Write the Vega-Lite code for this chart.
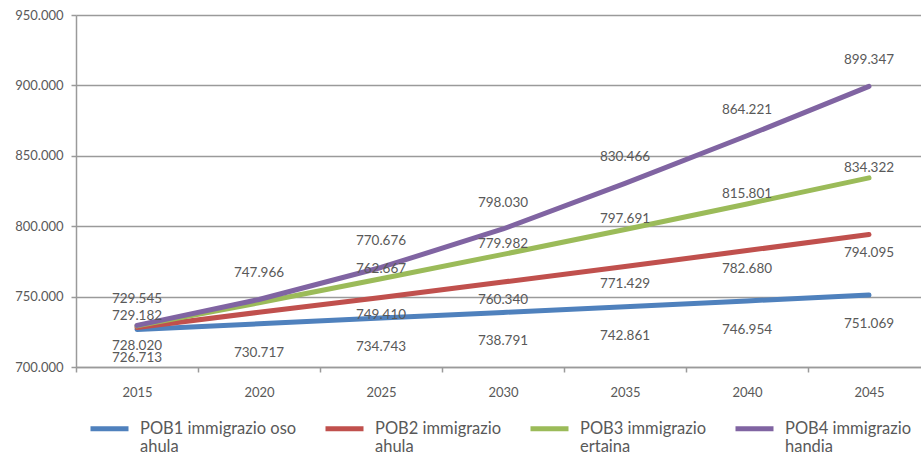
{
  "$schema": "https://vega.github.io/schema/vega-lite/v6.json",
  "autosize": {"type": "none"},
  "padding": {"left": 76, "top": 15, "right": 0, "bottom": 93},
  "width": 854,
  "height": 352,
  "background": "white",
  "config": {
    "locale": {"number": {"decimal": ",", "thousands": ".", "grouping": [3], "currency": ["", " €"]}},
    "view": {"stroke": null},
    "font": "Lato",
    "axis": {
      "labelFont": "Lato",
      "labelColor": "#595959",
      "labelFontSize": 13,
      "domainColor": "#9a9a9a",
      "domainWidth": 1.5,
      "tickColor": "#9a9a9a",
      "tickWidth": 1.5,
      "tickSize": 5,
      "gridColor": "#9a9a9a",
      "gridWidth": 1.3,
      "title": null
    },
    "legend": {
      "labelFont": "Lato",
      "labelFontSize": 16.5,
      "labelColor": "#595959",
      "labelLimit": 250,
      "labelLineHeight": 20
    }
  },
  "data": {
    "values": [
      {"series": "POB1 immigrazio oso ahula", "year": "2015", "value": 726713},
      {"series": "POB1 immigrazio oso ahula", "year": "2020", "value": 730717},
      {"series": "POB1 immigrazio oso ahula", "year": "2025", "value": 734743},
      {"series": "POB1 immigrazio oso ahula", "year": "2030", "value": 738791},
      {"series": "POB1 immigrazio oso ahula", "year": "2035", "value": 742861},
      {"series": "POB1 immigrazio oso ahula", "year": "2040", "value": 746954},
      {"series": "POB1 immigrazio oso ahula", "year": "2045", "value": 751069},
      {"series": "POB2 immigrazio ahula", "year": "2015", "value": 728020},
      {"series": "POB2 immigrazio ahula", "year": "2020", "value": 738900},
      {"series": "POB2 immigrazio ahula", "year": "2025", "value": 749410},
      {"series": "POB2 immigrazio ahula", "year": "2030", "value": 760340},
      {"series": "POB2 immigrazio ahula", "year": "2035", "value": 771429},
      {"series": "POB2 immigrazio ahula", "year": "2040", "value": 782680},
      {"series": "POB2 immigrazio ahula", "year": "2045", "value": 794095},
      {"series": "POB3 immigrazio ertaina", "year": "2015", "value": 729182},
      {"series": "POB3 immigrazio ertaina", "year": "2020", "value": 745600},
      {"series": "POB3 immigrazio ertaina", "year": "2025", "value": 762667},
      {"series": "POB3 immigrazio ertaina", "year": "2030", "value": 779982},
      {"series": "POB3 immigrazio ertaina", "year": "2035", "value": 797691},
      {"series": "POB3 immigrazio ertaina", "year": "2040", "value": 815801},
      {"series": "POB3 immigrazio ertaina", "year": "2045", "value": 834322},
      {"series": "POB4 immigrazio handia", "year": "2015", "value": 729545},
      {"series": "POB4 immigrazio handia", "year": "2020", "value": 747966},
      {"series": "POB4 immigrazio handia", "year": "2025", "value": 770676},
      {"series": "POB4 immigrazio handia", "year": "2030", "value": 798030},
      {"series": "POB4 immigrazio handia", "year": "2035", "value": 830466},
      {"series": "POB4 immigrazio handia", "year": "2040", "value": 864221},
      {"series": "POB4 immigrazio handia", "year": "2045", "value": 899347}
    ]
  },
  "encoding": {
    "x": {
      "field": "year",
      "type": "ordinal",
      "scale": {"type": "band", "paddingInner": 0, "paddingOuter": 0},
      "axis": {"labelAngle": 0, "tickBand": "extent", "labelPadding": 14, "grid": false}
    },
    "y": {
      "field": "value",
      "type": "quantitative",
      "scale": {"domain": [700000, 950000], "nice": false, "zero": false},
      "axis": {"values": [700000, 750000, 800000, 850000, 900000, 950000], "format": ",d", "labelPadding": 8, "grid": true}
    }
  },
  "layer": [
    {
      "mark": {"type": "line", "strokeWidth": 5, "strokeCap": "round", "strokeJoin": "round"},
      "encoding": {
        "color": {
          "field": "series",
          "type": "nominal",
          "scale": {
            "domain": ["POB1 immigrazio oso ahula", "POB2 immigrazio ahula", "POB3 immigrazio ertaina", "POB4 immigrazio handia"],
            "range": ["#4F81BD", "#C0504D", "#9BBB59", "#8064A2"]
          },
          "legend": {
            "title": null,
            "orient": "none",
            "legendX": 12,
            "legendY": 392,
            "direction": "horizontal",
            "columns": 4,
            "columnPadding": 18,
            "gridAlign": "each",
            "symbolType": "stroke",
            "symbolStrokeWidth": 5,
            "symbolSize": 1444,
            "labelOffset": 9,
            "labelExpr": "[slice(datum.label, 0, lastindexof(datum.label, ' ')), slice(datum.label, lastindexof(datum.label, ' ') + 1)]"
          }
        }
      }
    },
    {
      "transform": [{"filter": "datum.series == 'POB1 immigrazio oso ahula'"}],
      "mark": {"type": "text", "dy": 29, "fontSize": 13.5, "color": "#595959", "font": "Lato"},
      "encoding": {"text": {"field": "value", "type": "quantitative", "format": ",d"}}
    },
    {
      "transform": [{"filter": "datum.series == 'POB2 immigrazio ahula' && datum.year != '2020'"}],
      "mark": {"type": "text", "dy": 18, "fontSize": 13.5, "color": "#595959", "font": "Lato"},
      "encoding": {"text": {"field": "value", "type": "quantitative", "format": ",d"}}
    },
    {
      "transform": [{"filter": "datum.series == 'POB3 immigrazio ertaina' && datum.year != '2020'"}],
      "mark": {"type": "text", "dy": -10, "fontSize": 13.5, "color": "#595959", "font": "Lato"},
      "encoding": {"text": {"field": "value", "type": "quantitative", "format": ",d"}}
    },
    {
      "transform": [{"filter": "datum.series == 'POB4 immigrazio handia'"}],
      "mark": {"type": "text", "dy": -26, "fontSize": 13.5, "color": "#595959", "font": "Lato"},
      "encoding": {"text": {"field": "value", "type": "quantitative", "format": ",d"}}
    }
  ]
}
